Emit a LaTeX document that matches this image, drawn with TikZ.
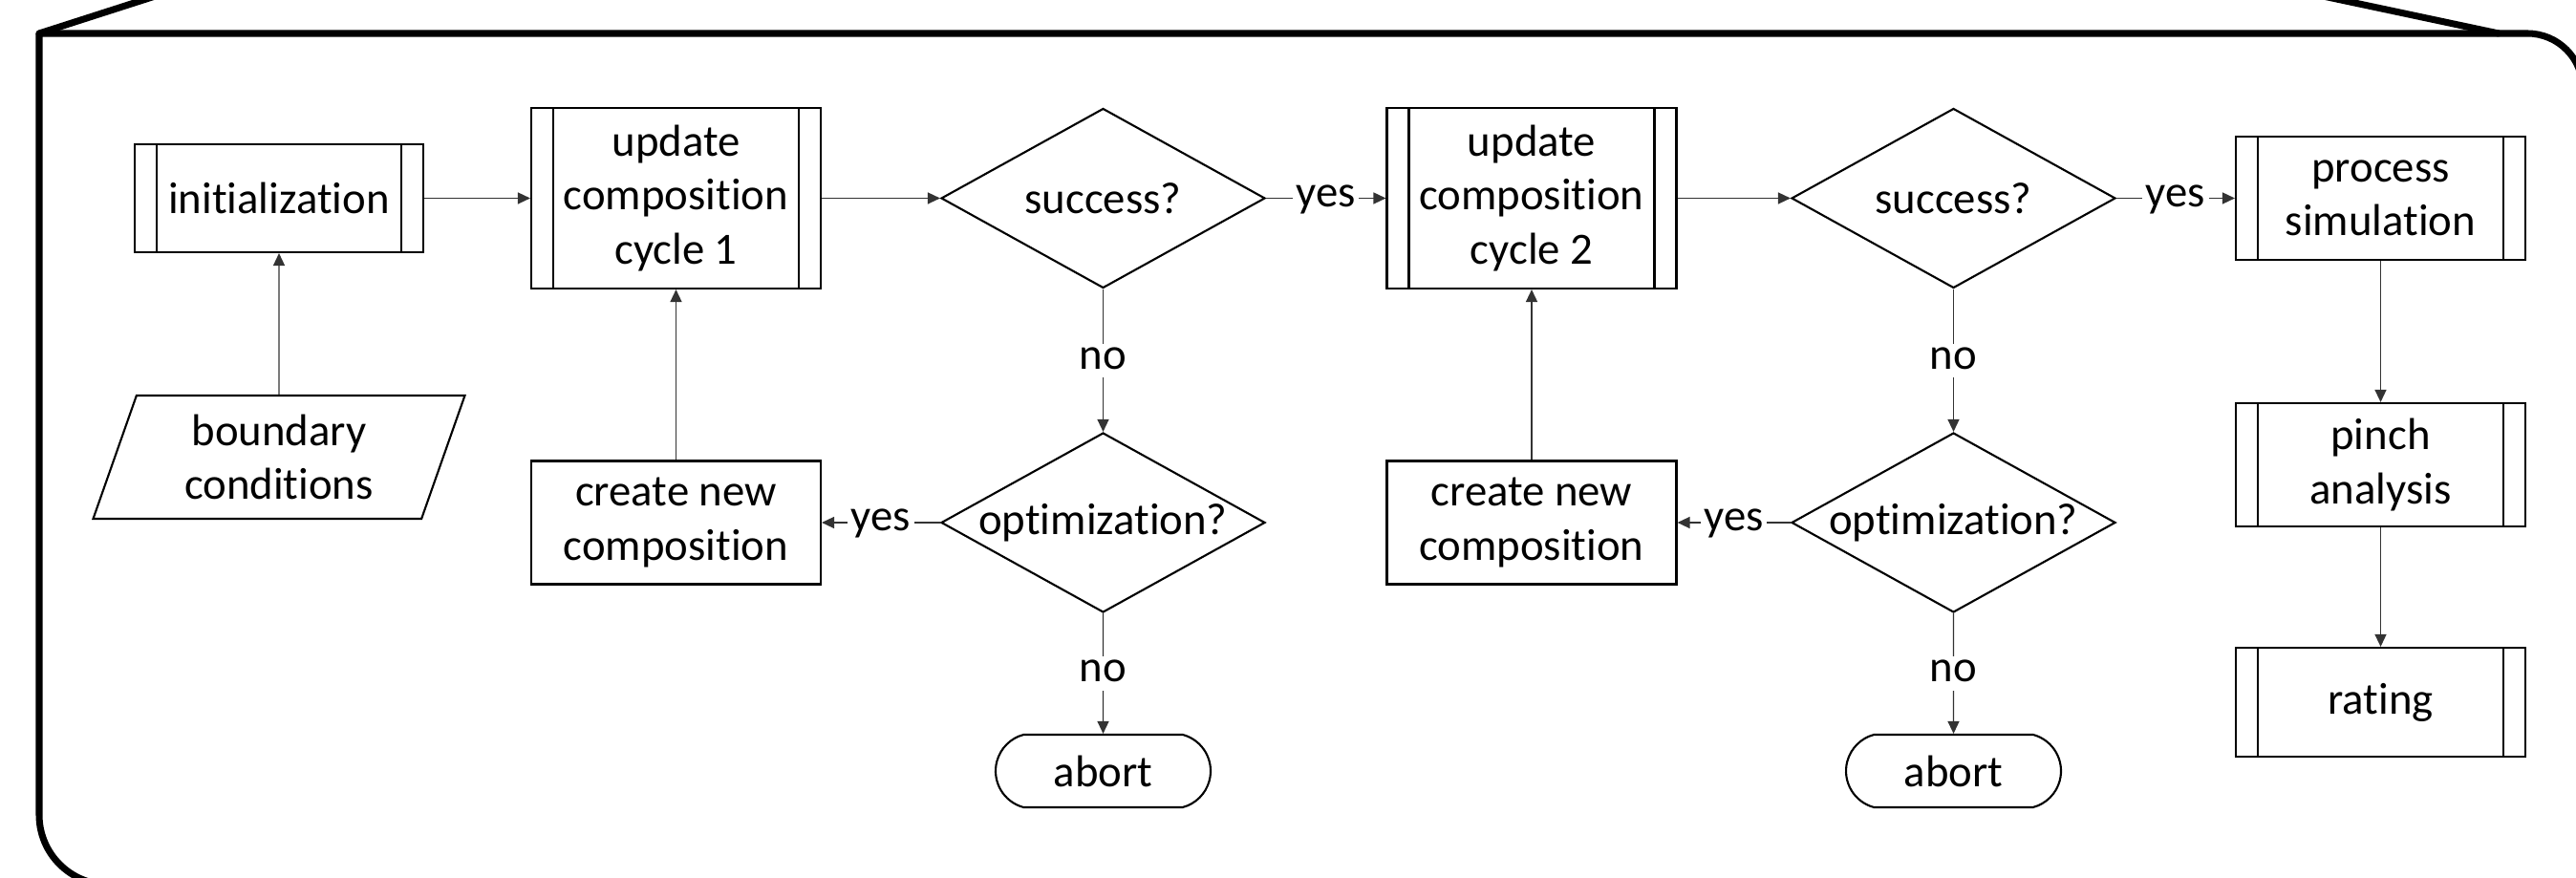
\documentclass[tikz,border=0pt]{standalone}
\usepackage{fontspec}
\setmainfont[Ligatures={NoCommon}]{Carlito}
\usetikzlibrary{shapes.geometric,shapes.misc,arrows.meta}
\tikzset{
  box/.style={draw, line width=0.6pt, rectangle, align=center, inner sep=0pt,
    minimum width=3.03cm, minimum height=1.29cm},
  subproc/.style={box,
    path picture={
      \draw[line width=0.6pt] ([xshift=0.23cm]path picture bounding box.north west) -- ([xshift=0.23cm]path picture bounding box.south west);
      \draw[line width=0.6pt] ([xshift=-0.23cm]path picture bounding box.north east) -- ([xshift=-0.23cm]path picture bounding box.south east);
    }},
  decision/.style={draw, line width=0.6pt, diamond, aspect=1.8, inner sep=0pt,
    minimum width=3.39cm, minimum height=1.88cm},
  term/.style={draw, line width=0.6pt, rounded rectangle, rounded rectangle arc length=150,
    inner sep=0pt, minimum width=2.25cm, minimum height=0.76cm},
  io/.style={draw, line width=0.6pt, trapezium, trapezium left angle=63, trapezium right angle=117,
    trapezium stretches body, inner sep=0pt, align=center,
    minimum width=3.89cm, minimum height=1.29cm},
  flow/.style={draw=black!80, line width=0.4pt, -{Triangle[length=0.13cm,width=0.12cm]}},
  lbl/.style={fill=white, inner xsep=1pt, inner ysep=0pt, text height=0.75em, text depth=0.25em},
  frame/.style={line width=2pt, line join=round, line cap=round},
}
\begin{document}
\begin{tikzpicture}[font=\fontsize{13.3pt}{16pt}\selectfont]
    \useasboundingbox (0,0) rectangle (26.96,-9.19);
    % 外枠
    \begin{scope}
        \clip (0,0) rectangle (26.96,-9.19);
        \draw[frame] (2.0,-9.26) [rounded corners=0.73cm] -- (0.41,-9.26)
            [sharp corners] -- (0.41,-0.35) [rounded corners=0.58cm] -- (27.03,-0.35) -- (27.03,-2.0);
        \draw[frame] (0.41,-0.35) -- (1.81,0.1);
        \draw[frame] (26.15,-0.35) -- (24.03,0.1);
    \end{scope}

    % 初期化
    \node[subproc, minimum width=3.02cm, minimum height=1.13cm] (init) at (2.92,-2.075) {initialization};
    \node[io] (bound) at (2.92,-4.785) {boundary\\conditions};

    % サイクル 1
    \node[subproc, minimum height=1.89cm] (upd1) at (7.075,-2.075) {update\\composition\\cycle 1};
    \node[decision] (succ1) at (11.545,-2.075) {success?};
    \node[decision] (opt1) at (11.545,-5.47) {optimization?};
    \node[box] (new1) at (7.075,-5.47) {create new\\composition};
    \node[term] (abort1) at (11.545,-8.07) {abort};

    % サイクル 2
    \node[subproc, minimum height=1.89cm] (upd2) at (16.03,-2.075) {update\\composition\\cycle 2};
    \node[decision] (succ2) at (20.445,-2.075) {success?};
    \node[decision] (opt2) at (20.445,-5.47) {optimization?};
    \node[box] (new2) at (16.03,-5.47) {create new\\composition};
    \node[term] (abort2) at (20.445,-8.07) {abort};

    % 評価
    \node[subproc] (proc) at (24.915,-2.075) {process\\simulation};
    \node[subproc] (pinch) at (24.915,-4.865) {pinch\\analysis};
    \node[subproc, minimum height=1.14cm] (rating) at (24.915,-7.35) {rating};

    \draw[flow] (bound) -- (init);
    \draw[flow] (init) -- (upd1);
    \draw[flow] (upd1) -- (succ1);
    \draw[flow] (succ1) -- node[lbl] {yes} (upd2);
    \draw[flow] (succ1) -- node[lbl] {no} (opt1);
    \draw[flow] (opt1) -- node[lbl] {yes} (new1);
    \draw[flow] (opt1) -- node[lbl] {no} (abort1);
    \draw[flow] (new1) -- (upd1);

    \draw[flow] (upd2) -- (succ2);
    \draw[flow] (succ2) -- node[lbl] {yes} (proc);
    \draw[flow] (succ2) -- node[lbl] {no} (opt2);
    \draw[flow] (opt2) -- node[lbl] {yes} (new2);
    \draw[flow] (opt2) -- node[lbl] {no} (abort2);
    \draw[flow] (new2) -- (upd2);

    \draw[flow] (proc) -- (pinch);
    \draw[flow] (pinch) -- (rating);
\end{tikzpicture}
\end{document}
